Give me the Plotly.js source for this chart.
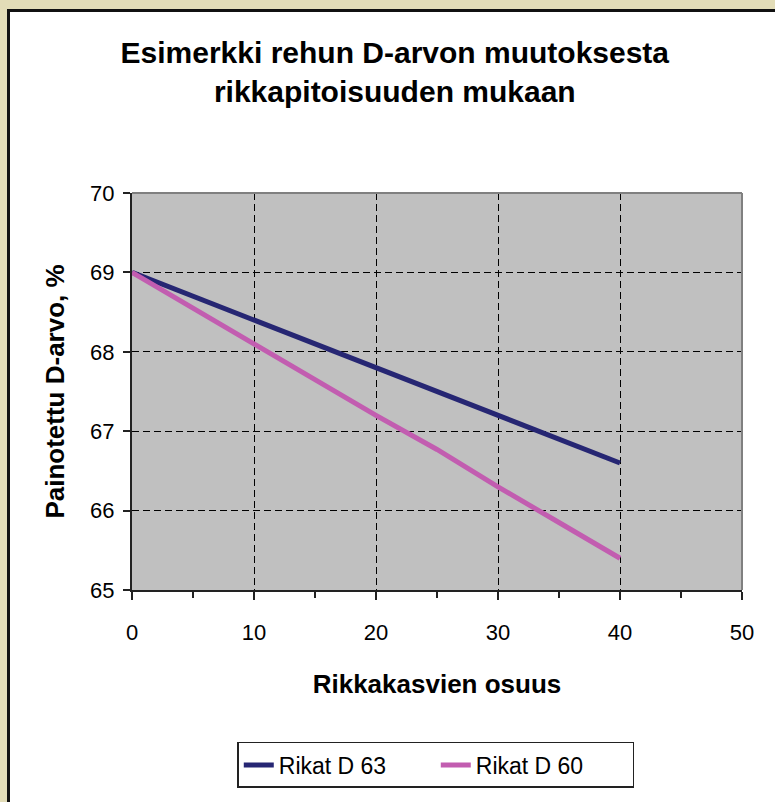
<!DOCTYPE html>
<html>
<head>
<meta charset="utf-8">
<script src="https://cdn.plot.ly/plotly-3.0.1.min.js"></script>
<style>
  html, body { margin: 0; padding: 0; }
  body { width: 775px; height: 802px; background: #E2DCB7; position: relative; overflow: hidden; }
  #frame { position: absolute; left: 7px; top: 9px; width: 768px; height: 793px;
           border-left: 3px solid #111; border-top: 3px solid #111; background: #fff; }
  #chart { width: 765px; height: 790px; }
</style>
</head>
<body>
<div id="frame"><div id="chart"></div></div>
<script>
// Data
const rikkaOsuus = [0, 5, 10, 15, 20, 25, 30, 35, 40];
const rikatD63   = [69, 68.7, 68.4, 68.1, 67.8, 67.5, 67.2, 66.9, 66.6];
const rikatD60   = [69, 68.55, 68.1, 67.65, 67.2, 66.77, 66.3, 65.85, 65.4];
const seriesNames = ["Rikat D 63", "Rikat D 60"];
const xTicks = [0, 10, 20, 30, 40, 50];
const yTicks = [65, 66, 67, 68, 69, 70];

const FONT = "Liberation Sans, Arial, sans-serif";

const traces = [
  { x: rikkaOsuus, y: rikatD63, name: seriesNames[0], type: "scatter", mode: "lines",
    line: { color: "#262673", width: 5 } },
  { x: rikkaOsuus, y: rikatD60, name: seriesNames[1], type: "scatter", mode: "lines",
    line: { color: "#C25DB0", width: 5 } }
];

const layout = {
  width: 765, height: 790,
  margin: { l: 122, r: 33, t: 181, b: 212 },
  paper_bgcolor: "#ffffff",
  plot_bgcolor: "#C0C0C0",
  font: { family: FONT, color: "#000", size: 22 },
  title: {
    text: "<b>Esimerkki rehun D-arvon muutoksesta<br>rikkapitoisuuden mukaan</b>",
    font: { family: FONT, size: 30, color: "#000" },
    x: 0.503, xref: "container", xanchor: "center",
    y: 0.935, yref: "container", yanchor: "top"
  },
  xaxis: {
    range: [0, 50], tickvals: xTicks, ticktext: xTicks.map(String),
    showgrid: true, gridcolor: "#000", gridwidth: 1, griddash: "7px,4px",
    zeroline: false, showline: true, linecolor: "#222", linewidth: 2,
    ticks: "outside", ticklen: 8, tickwidth: 2, tickcolor: "#222",
    ticklabelstandoff: 14,
    minor: { dtick: 5, tick0: 5, ticks: "outside", ticklen: 6, tickwidth: 2, tickcolor: "#222", showgrid: false },
    tickfont: { size: 22 },
    title: { text: "<b>Rikkakasvien osuus</b>", font: { size: 26 }, standoff: 30 },
    fixedrange: true
  },
  yaxis: {
    range: [65, 70], tickvals: yTicks, ticktext: yTicks.map(String),
    showgrid: true, gridcolor: "#000", gridwidth: 1, griddash: "7px,4px",
    zeroline: false, showline: true, linecolor: "#222", linewidth: 2,
    ticks: "outside", ticklen: 7, tickwidth: 2, tickcolor: "#222",
    ticklabelstandoff: 4,
    tickfont: { size: 22 },
    title: { text: "<b>Painotettu D-arvo, %</b>", font: { size: 26 }, standoff: 18 },
    fixedrange: true
  },
  shapes: [
    { type: "line", xref: "paper", yref: "paper", x0: 0, x1: 1, y0: 1, y1: 1,
      line: { color: "#808080", width: 2 }, layer: "above" },
    { type: "line", xref: "paper", yref: "paper", x0: 1, x1: 1, y0: 0, y1: 1,
      line: { color: "#808080", width: 2 }, layer: "above" }
  ],
  showlegend: true,
  legend: {
    orientation: "h", x: 0.498, xanchor: "center",
    y: 0.076, yref: "container", yanchor: "top",
    bordercolor: "#222", borderwidth: 1.5, bgcolor: "#fff",
    font: { size: 23, color: "#000" },
    entrywidth: 152, entrywidthmode: "pixels",
    itemclick: false, itemdoubleclick: false
  }
};

Plotly.newPlot("chart", traces, layout, { displayModeBar: false, staticPlot: true });
</script>
</body>
</html>
